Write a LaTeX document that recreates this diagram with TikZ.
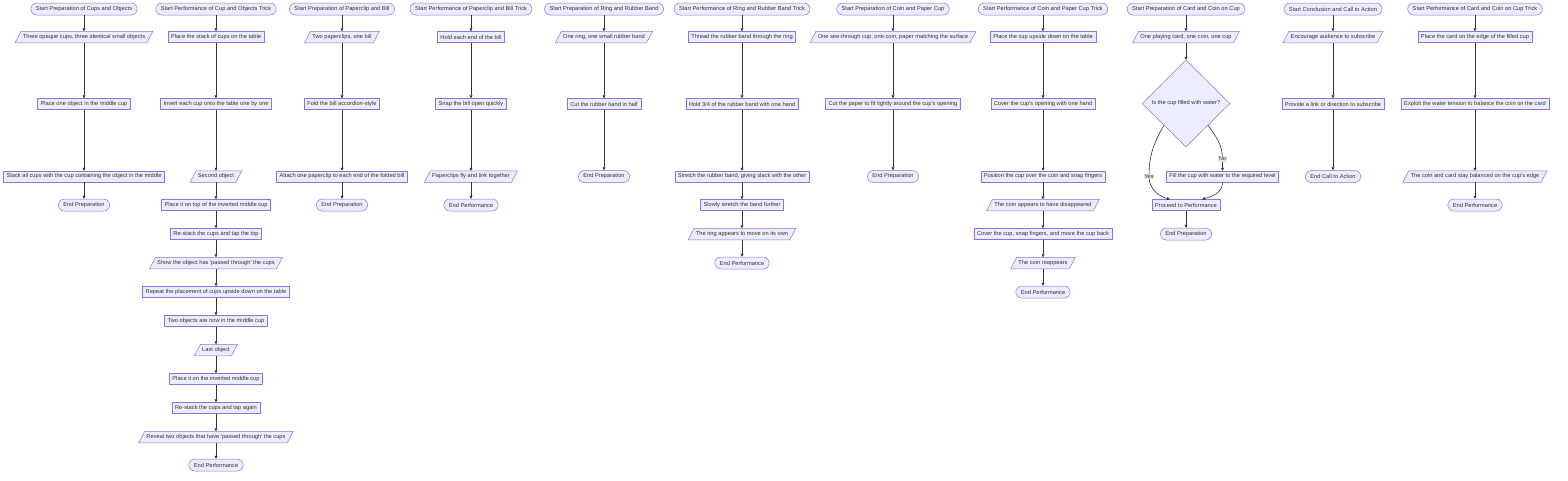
\documentclass[tikz,border=0pt]{standalone}
\usepackage{fontspec}
\setmainfont{Liberation Sans}
\usetikzlibrary{shapes.geometric,arrows.meta,backgrounds}
\definecolor{nfill}{HTML}{ECECFF}
\definecolor{nstroke}{HTML}{9370DB}
\definecolor{ntext}{HTML}{333333}
\definecolor{elabel}{HTML}{E8E8E8}
\tikzset{
  base/.style={draw=nstroke, fill=nfill, text=ntext, line width=0.5pt, font=\fontsize{5.7}{6.5}\selectfont},
  term/.style={base, rectangle, rounded corners=6pt, minimum height=12pt, inner xsep=5pt, inner ysep=0pt},
  proc/.style={base, rectangle, minimum height=11pt, inner xsep=3pt, inner ysep=0pt},
  io/.style={base, draw=none, fill=none, rectangle, minimum height=11pt, inner xsep=1.5pt, inner ysep=0pt},
  paraframe/.style={draw=nstroke, fill=nfill, line width=0.5pt},
  decis/.style={base, diamond, minimum width=88pt, minimum height=87pt, inner sep=0pt},
  edge/.style={draw=ntext, line width=0.6pt, -{Triangle[length=3pt,width=3pt]}},
  elab/.style={fill=elabel, text=ntext, inner sep=0.8pt, font=\fontsize{5.7}{6.5}\selectfont}
}
\begin{document}
\begin{tikzpicture}[x=1pt,y=-1pt]
\useasboundingbox (0,0) rectangle (1568,480);
% Column A
\node[term] (a0) at (84,9) {Start Preparation of Cups and Objects};
\node[io]   (a1) at (84,37) {Three opaque cups, three identical small objects};
\node[proc] (a2) at (84,104) {Place one object in the middle cup};
\node[proc] (a3) at (84,176.5) {Stack all cups with the cup containing the object in the middle};
\node[term] (a4) at (84,205) {End Preparation};
% Column B
\node[term] (b0) at (216,9) {Start Performance of Cup and Objects Trick};
\node[proc] (b1) at (216,37) {Place the stack of cups on the table};
\node[proc] (b2) at (216,104) {Invert each cup onto the table one by one};
\node[io]   (b3) at (216,176.5) {Second object};
\node[proc] (b4) at (216,205) {Place it on top of the inverted middle cup};
\node[proc] (b5) at (216,234) {Re-stack the cups and tap the top};
\node[io]   (b6) at (216,263) {Show the object has \textquotesingle passed through\textquotesingle{} the cups};
\node[proc] (b7) at (216,292) {Repeat the placement of cups upside down on the table};
\node[proc] (b8) at (216,321) {Two objects are now in the middle cup};
\node[io]   (b9) at (216,350) {Last object};
\node[proc] (b10) at (216,379) {Place it on the inverted middle cup};
\node[proc] (b11) at (216,408) {Re-stack the cups and tap again};
\node[io]   (b12) at (216,437) {Reveal two objects that have \textquotesingle passed through\textquotesingle{} the cups};
\node[term] (b13) at (216,465) {End Performance};
% Column C
\node[term] (c0) at (342,9) {Start Preparation of Paperclip and Bill};
\node[io]   (c1) at (342,37) {Two paperclips, one bill};
\node[proc] (c2) at (342,104) {Fold the bill accordion-style};
\node[proc] (c3) at (342,176.5) {Attach one paperclip to each end of the folded bill};
\node[term] (c4) at (342,205) {End Preparation};
% Column D
\node[term] (d0) at (471,9) {Start Performance of Paperclip and Bill Trick};
\node[proc] (d1) at (471,37) {Hold each end of the bill};
\node[proc] (d2) at (471,104) {Snap the bill open quickly};
\node[io]   (d3) at (471,176.5) {Paperclips fly and link together};
\node[term] (d4) at (471,205) {End Performance};
% Column E
\node[term] (e0) at (604,9) {Start Preparation of Ring and Rubber Band};
\node[io]   (e1) at (604,37) {One ring, one small rubber band};
\node[proc] (e2) at (604,104) {Cut the rubber band in half};
\node[term] (e3) at (604,176.5) {End Preparation};
% Column F
\node[term] (f0) at (742,9) {Start Performance of Ring and Rubber Band Trick};
\node[proc] (f1) at (742,37) {Thread the rubber band through the ring};
\node[proc] (f2) at (742,104) {Hold 3/4 of the rubber band with one hand};
\node[proc] (f3) at (742,176.5) {Stretch the rubber band, giving slack with the other};
\node[proc] (f4) at (742,205) {Slowly stretch the band further};
\node[io]   (f5) at (742,234) {The ring appears to move on its own};
\node[term] (f6) at (742,263) {End Performance};
% Column G
\node[term] (g0) at (893,9) {Start Preparation of Coin and Paper Cup};
\node[io]   (g1) at (893,37) {One see-through cup, one coin, paper matching the surface};
\node[proc] (g2) at (893,104) {Cut the paper to fit tightly around the cup\textquotesingle s opening};
\node[term] (g3) at (893,176.5) {End Preparation};
% Column H
\node[term] (h0) at (1043,9) {Start Performance of Coin and Paper Cup Trick};
\node[proc] (h1) at (1043,37) {Place the cup upside down on the table};
\node[proc] (h2) at (1043,104) {Cover the cup\textquotesingle s opening with one hand};
\node[proc] (h3) at (1043,176.5) {Position the cup over the coin and snap fingers};
\node[io]   (h4) at (1043,205) {The coin appears to have disappeared};
\node[proc] (h5) at (1043,234) {Cover the cup, snap fingers, and move the cup back};
\node[io]   (h6) at (1043,263) {The coin reappears};
\node[term] (h7) at (1043,292) {End Performance};
% Column I
\node[term] (i0) at (1186,9) {Start Preparation of Card and Coin on Cup};
\node[io]   (i1) at (1186,37) {One playing card, one coin, one cup};
\node[decis] (i2) at (1186,103.5) {Is the cup filled with water?};
\node[proc] (i3) at (1222.5,176.5) {Fill the cup with water to the required level};
\node[proc] (i4) at (1186,205) {Proceed to Performance};
\node[term] (i5) at (1186,234) {End Preparation};
% Column J
\node[term] (j0) at (1333,9) {Start Conclusion and Call to Action};
\node[io]   (j1) at (1333,37) {Encourage audience to subscribe};
\node[proc] (j2) at (1333,104) {Provide a link or direction to subscribe};
\node[term] (j3) at (1333,176.5) {End Call to Action};
% Column K
\node[term] (k0) at (1475,9) {Start Performance of Card and Coin on Cup Trick};
\node[proc] (k1) at (1475,37) {Place the card on the edge of the filled cup};
\node[proc] (k2) at (1475,104) {Exploit the water tension to balance the coin on the card};
\node[io]   (k3) at (1475,176.5) {The coin and card stay balanced on the cup\textquotesingle s edge};
\node[term] (k4) at (1475,205) {End Performance};
% parallelogram frames behind the input/output nodes
\begin{scope}[on background layer]
\foreach \n in {a1,b3,b6,b9,b12,c1,d3,e1,f5,g1,h4,h6,i1,j1,k3}
  \filldraw[paraframe] ([xshift=-6pt]\n.south west) -- (\n.south east)
     -- ([xshift=6pt]\n.north east) -- (\n.north west) -- cycle;
\end{scope}
% straight edges
\foreach \u/\v in {a0/a1,a1/a2,a2/a3,a3/a4,
  b0/b1,b1/b2,b2/b3,b3/b4,b4/b5,b5/b6,b6/b7,b7/b8,b8/b9,b9/b10,b10/b11,b11/b12,b12/b13,
  c0/c1,c1/c2,c2/c3,c3/c4, d0/d1,d1/d2,d2/d3,d3/d4, e0/e1,e1/e2,e2/e3,
  f0/f1,f1/f2,f2/f3,f3/f4,f4/f5,f5/f6, g0/g1,g1/g2,g2/g3,
  h0/h1,h1/h2,h2/h3,h3/h4,h4/h5,h5/h6,h6/h7, i0/i1,i1/i2,i4/i5,
  j0/j1,j1/j2,j2/j3, k0/k1,k1/k2,k2/k3,k3/k4}
  \draw[edge] (\u) -- (\v);
% decision edges
\coordinate (yesmid) at (1149,176.5);
\coordinate (nomid) at (1222.5,159);
\draw[edge] (i2.south west) to[out=-120,in=90] (yesmid) to[out=-90,in=165] ([xshift=-16pt]i4.north);
\draw[edge] (i2.south east) to[out=-55,in=90] (nomid) -- (i3.north);
\draw[edge] (i3.south) to[out=-90,in=15] ([xshift=16pt]i4.north);
\node[elab] (yeslab) at (yesmid) {Yes};
\node[elab] (nolab) at (nomid) {No};
\end{tikzpicture}
\end{document}
